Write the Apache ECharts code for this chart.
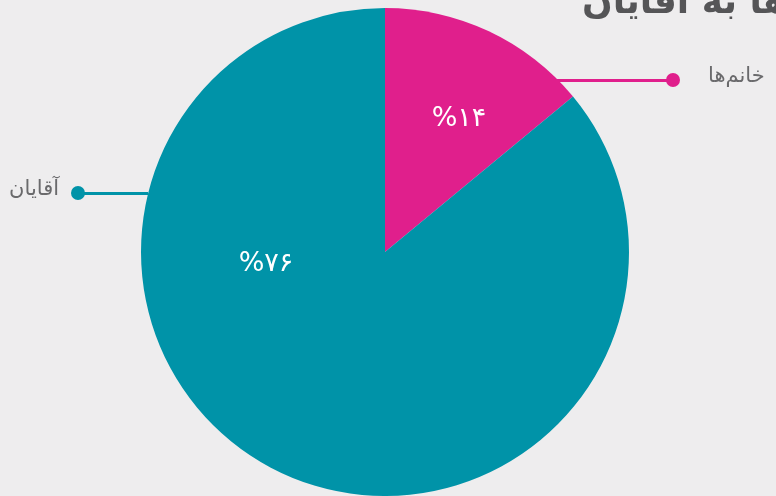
<!DOCTYPE html>
<html>
<head>
<meta charset="utf-8">
<script src="https://cdn.jsdelivr.net/npm/echarts@6/dist/echarts.min.js"></script>
<style>
  html, body { margin: 0; padding: 0; background: #eeedee; }
  #main { width: 776px; height: 496px; }
</style>
</head>
<body>
<div id="main"></div>
<script>
// data
const names = ['خانم‌ها', 'آقایان'];
const values = [14, 86];
const percentLabels = ['%۱۴', '%۷۶'];
const colors = ['#e01f8c', '#0093a8'];
const titleText = 'نسبت خانم‌ها به آقایان';

const pieData = names.map((n, i) => ({ name: n, value: values[i], itemStyle: { color: colors[i] } }));

const chart = echarts.init(document.getElementById('main'));

// label spots (percent labels sit off the mid angle in the original)
const pctPos = [[459, 119], [266, 264]];

chart.setOption({
  backgroundColor: '#eeedee',
  animation: false,
  title: {
    text: titleText,
    left: 577,
    top: -19,
    textStyle: { fontFamily: 'DejaVu Sans', fontSize: 36, fontWeight: 'bold', color: '#555557' }
  },
  series: [
    {
      type: 'pie',
      center: [385, 252],
      radius: 244,
      startAngle: 90,
      silent: true,
      data: pieData,
      label: {
        position: 'inside',
        color: '#fff',
        fontFamily: 'DejaVu Sans',
        fontSize: 27,
        formatter: p => percentLabels[p.dataIndex]
      },
      labelLine: { show: false },
      labelLayout: p => ({ x: pctPos[p.dataIndex][0], y: pctPos[p.dataIndex][1], align: 'center', verticalAlign: 'middle' })
    },
    {
      type: 'pie',
      center: [385, 252],
      radius: 244,
      startAngle: 90,
      silent: true,
      data: pieData.map((d, i) => ({
        name: d.name, value: d.value,
        itemStyle: { color: 'rgba(0,0,0,0)' },
        labelLine: { lineStyle: { color: colors[i], width: 3 } }
      })),
      label: {
        position: 'outside',
        formatter: p => p.dataIndex === 0 ? '{d0|}{n0|' + p.name + '}' : '{n1|' + p.name + '}{d1|}',
        rich: {
          n0: { fontFamily: 'DejaVu Sans', fontSize: 21, color: '#6a6a6c', padding: [0, 0, 6, 28] },
          n1: { fontFamily: 'DejaVu Sans', fontSize: 21, color: '#6a6a6c', padding: [0, 12, 6, 0] },
          d0: { width: 14, height: 14, borderRadius: 7, backgroundColor: colors[0] },
          d1: { width: 14, height: 14, borderRadius: 7, backgroundColor: colors[1] }
        }
      },
      labelLine: { show: true },
      labelLayout: p => p.dataIndex === 0
        ? { x: 666, y: 80, align: 'left', verticalAlign: 'middle',
            labelLinePoints: [[557, 80.5], [610, 80.5], [668, 80.5]] }
        : { x: 85, y: 193, align: 'right', verticalAlign: 'middle',
            labelLinePoints: [[148, 193.5], [110, 193.5], [80, 193.5]] }
    }
  ]
});
</script>
</body>
</html>
